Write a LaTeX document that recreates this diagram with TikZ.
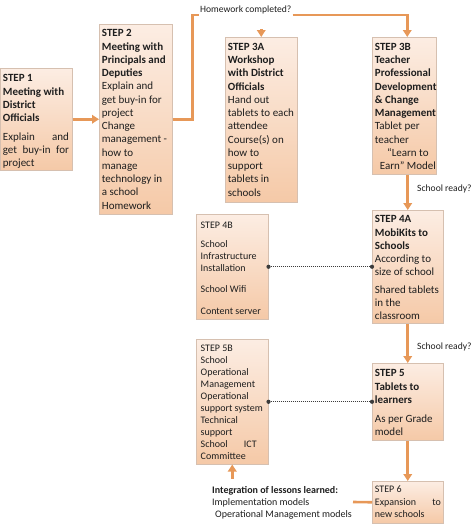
\documentclass[tikz,border=0pt]{standalone}
\usepackage{fontspec}
\setmainfont{Carlito}
\usetikzlibrary{arrows.meta,shadows}
\definecolor{arrc}{RGB}{231,152,88}
\definecolor{ftop}{RGB}{252,237,227}
\definecolor{fbot}{RGB}{245,201,167}
\definecolor{bord}{RGB}{214,192,176}
\definecolor{dotc}{RGB}{60,60,60}
\definecolor{txtc}{RGB}{30,30,30}
\newcommand\hd[1]{\textbf{#1}}
\begin{document}
\begin{tikzpicture}[x=1pt,y=-1pt,
 box/.style={draw=bord, line width=0.5pt, top color=ftop, bottom color=fbot, anchor=north west, inner sep=0pt,
   drop shadow={shadow xshift=1.2pt, shadow yshift=-1.2pt, opacity=0.25, fill=gray}},
 big/.style={anchor=north west, inner sep=0pt, align=left, text=txtc, font=\fontsize{11}{13.25}\selectfont},
 small/.style={anchor=north west, inner sep=0pt, align=left, text=txtc, font=\fontsize{10}{12}\selectfont},
 lbl/.style={inner sep=1pt, text=txtc, font=\fontsize{9.6}{11.5}\selectfont},
 conn/.style={draw=arrc, line width=2.6pt},
 arr/.style={conn, -{Triangle[width=8.5pt,length=7pt]}},
 dotl/.style={draw=dotc, line width=0.8pt, dash pattern=on 0.8pt off 1.2pt},
 enddot/.style={fill=dotc}
]
\useasboundingbox (0,0) rectangle (474,525);

% boxes
\node[box, minimum width=72pt, minimum height=102pt] (s1) at (0,68) {};
\node[box, minimum width=73pt, minimum height=190pt] (s2) at (99,24) {};
\node[box, minimum width=72pt, minimum height=165pt] (s3a) at (225,37) {};
\node[box, minimum width=64pt, minimum height=137pt] (s3b) at (372,37) {};
\node[box, minimum width=71pt, minimum height=113pt] (s4a) at (372,210) {};
\node[box, minimum width=72pt, minimum height=105pt] (s4b) at (196,214) {};
\node[box, minimum width=72pt, minimum height=125pt] (s5b) at (196,339) {};
\node[box, minimum width=71pt, minimum height=77pt] (s5) at (372,363) {};
\node[box, minimum width=71pt, minimum height=42pt] (s6) at (372,481) {};

% texts
\node[big] (t1) at ([shift={(2.7,6.5)}]s1.north west)
 {\hd{STEP 1}\\\hd{Meeting with}\\\hd{District}\\\hd{Officials}\\[5.5pt]
  \hbox to 66pt{Explain\hfill and}\\\hbox to 66pt{get\hfill buy-in\hfill for}\\project};
\node[big] (t2) at ([shift={(2.7,5.5)}]s2.north west)
 {\hd{STEP 2}\\\hd{Meeting with}\\\hd{Principals and}\\\hd{Deputies}\\Explain and\\get buy-in for\\project\\Change\\management -\\how to\\manage\\technology in\\a school\\Homework};
\node[big] (t3a) at ([shift={(2.7,6)}]s3a.north west)
 {\hd{STEP 3A}\\\hd{Workshop}\\\hd{with District}\\\hd{Officials}\\Hand out\\tablets to each\\attendee\\Course(s) on\\how to\\support\\tablets in\\schools};
\node[big] (t3b) at ([shift={(2.7,6)}]s3b.north west)
 {\hd{STEP 3B}\\\hd{Teacher}\\\hd{Professional}\\\hd{Development}\\\hd{\& Change}\\\hd{Management}\\Tablet per\\teacher\\\makebox[66pt]{“Learn to}\\\makebox[66pt]{Earn” Model}};
\node[big] (t4a) at ([shift={(2.7,5.5)}]s4a.north west)
 {\hd{STEP 4A}\\\hd{MobiKits to}\\\hd{Schools}\\According to\\size of school\\[4pt]Shared tablets\\in the\\classroom};
\node[small] (t4b) at ([shift={(4.5,7.5)}]s4b.north west)
 {STEP 4B\\[7pt]School\\Infrastructure\\Installation\\[9pt]School Wifi\\[10pt]Content server};
\node[small] (t5b) at ([shift={(4.5,5.5)}]s5b.north west)
 {STEP 5B\\School\\Operational\\Management\\Operational\\support system\\Technical\\support\\\hbox to 56pt{School\hfill ICT}\\Committee};
\node[big] (t5) at ([shift={(2.7,6.5)}]s5.north west)
 {\hd{STEP 5}\\\hd{Tablets to}\\\hd{learners}\\[6pt]As per Grade\\model};
\node[small] (t6) at ([shift={(2.7,4.8)}]s6.north west)
 {STEP 6\\[0.5pt]\hbox to 66pt{Expansion\hfill to}\\[0.5pt]new schools};

% labels
\node[lbl, anchor=south west] (hw) at (199,15) {Homework completed?};
\node[lbl, anchor=west] (r1) at (416,189) {School ready?};
\node[lbl, anchor=west] (r2) at (416,347) {School ready?};
\node[small, anchor=north west] (int) at (212,486.5)
 {\textbf{Integration of lessons learned:}\\Implementation models\\\hspace*{3pt}Operational Management models};
\coordinate (intend) at (353,502);

% connectors
\draw[arr] (s1.east) -- (s2.west);
\draw[conn] (s2.east) -- ++(20,0) |- (hw.south west);
\draw[arr] (hw.south east) -| ([xshift=3pt]s3b.north);
\draw[arr] ([yshift=8pt]s3a.north) -- (s3a.north);
\draw[arr] (s4a.north |- s3b.south) -- (s4a.north);
\draw[arr] (s4a.south) -- (s5.north);
\draw[arr] (s5.south) -- (s6.north);
\draw[dotl] (s4b.east) -- (s4a.west);
\draw[dotl] (s5b.east) -- (s5.west);
\fill[enddot] (s4b.east) circle (2.1pt) (s4a.west) circle (2.1pt);
\fill[enddot] (s5b.east) circle (2.1pt) (s5.west) circle (2.1pt);
\draw[arr] ([yshift=-14pt]s5b.south) -- (s5b.south);
\draw[conn] (intend) -- (s6.west);
\end{tikzpicture}
\end{document}
